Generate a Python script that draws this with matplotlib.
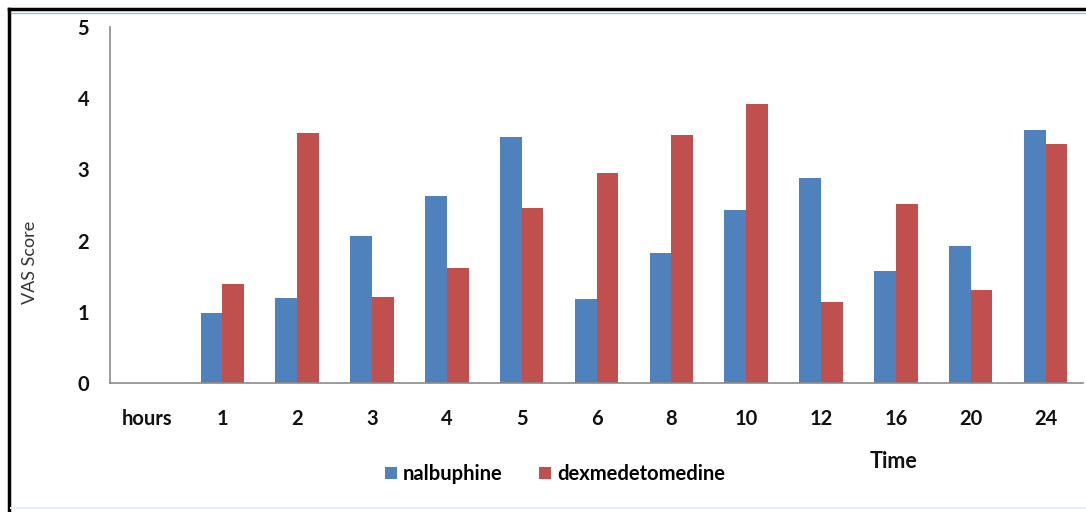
import numpy as np
import matplotlib.pyplot as plt
from matplotlib.lines import Line2D

categories = ['hours', '1', '2', '3', '4', '5', '6', '8', '10', '12', '16', '20', '24']
nalbuphine = [0, 0.98, 1.20, 2.07, 2.62, 3.45, 1.18, 1.82, 2.43, 2.88, 1.58, 1.92, 3.55]
dexmedetomedine = [0, 1.39, 3.51, 1.21, 1.61, 2.46, 2.95, 3.48, 3.92, 1.14, 2.51, 1.31, 3.35]

plt.rcParams['font.family'] = ['Lato', 'DejaVu Sans']

fig = plt.figure(figsize=(10.86, 5.12), dpi=100)
ax = fig.add_axes([110 / 1086, 1 - 383 / 512, 973 / 1086, 356 / 512])

x = np.arange(len(categories))
w = 0.29
ax.bar(x - w / 2, nalbuphine, w, color='#4F81BD', label='nalbuphine')
ax.bar(x + w / 2, dexmedetomedine, w, color='#C0504D', label='dexmedetomedine')

ax.set_xlim(-0.5, len(categories) - 0.5)
ax.set_ylim(0, 5)
ax.set_yticks(range(6))
ax.set_xticks(x)
ax.set_xticklabels(categories)
ax.tick_params(length=0)
ax.tick_params(axis='y', pad=15)
ax.tick_params(axis='x', pad=19)
for lab in ax.get_xticklabels() + ax.get_yticklabels():
    lab.set_fontsize(14.5)
    lab.set_fontweight('bold')
    lab.set_color('#111111')

for s in ['top', 'right']:
    ax.spines[s].set_visible(False)
for s in ['left', 'bottom']:
    ax.spines[s].set_color('#8a8a8a')
    ax.spines[s].set_linewidth(1.2)

fig.text(30 / 1086, 1 - 262 / 512, 'VAS Score', rotation=90, ha='center', va='center',
         fontsize=13, color='#333333')
fig.text(893 / 1086, 1 - 462 / 512, 'Time', ha='center', va='center',
         fontsize=15.5, fontweight='bold', color='#111111')

leg = fig.legend(loc='center', bbox_to_anchor=(555 / 1086, 1 - 474 / 512), ncol=2, frameon=False,
                 handlelength=0.6, handleheight=0.6, handletextpad=0.3, columnspacing=1.8,
                 prop={'weight': 'bold', 'size': 14.5})

# outer frame
fig.add_artist(Line2D([9 / 1086, 9 / 1086], [0, 1 - 9 / 512], color='black', lw=2.5))
fig.add_artist(Line2D([9 / 1086, 1], [1 - 9 / 512, 1 - 9 / 512], color='black', lw=2.5))
fig.add_artist(Line2D([11 / 1086, 1], [1 - 12.5 / 512, 1 - 12.5 / 512], color='#9db9e0', lw=1))
fig.add_artist(Line2D([11 / 1086, 1], [1 - 508 / 512, 1 - 508 / 512], color='#e6edf7', lw=1.5))

fig.savefig('out.png', dpi=100)
